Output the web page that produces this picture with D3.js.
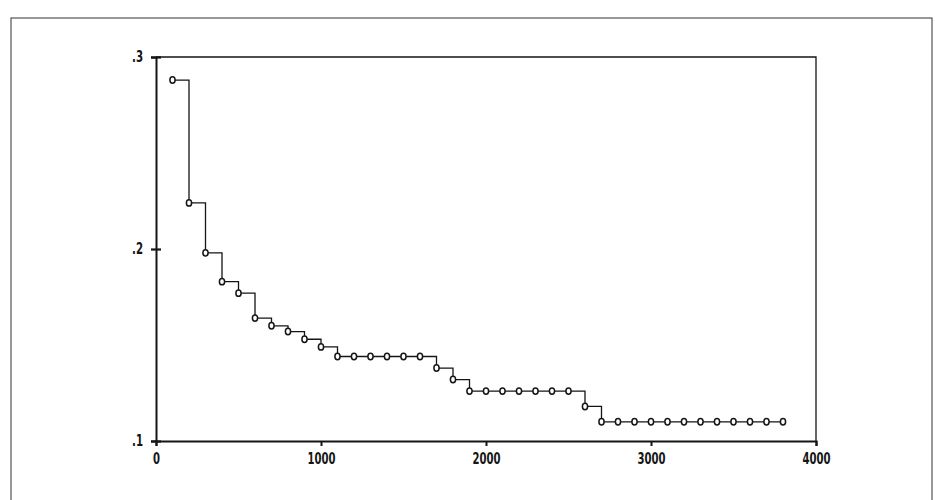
<!DOCTYPE html>
<html>
<head>
<meta charset="utf-8">
<script src="https://cdn.jsdelivr.net/npm/d3@7"></script>
<style>
  html, body { margin: 0; padding: 0; background: #fff; }
  svg { display: block; }
</style>
</head>
<body>
<svg id="chart" width="935" height="500"></svg>
<script>
// Data
const xValues = [100, 200, 300, 400, 500, 600, 700, 800, 900, 1000,
                 1100, 1200, 1300, 1400, 1500, 1600, 1700, 1800, 1900, 2000,
                 2100, 2200, 2300, 2400, 2500, 2600, 2700, 2800, 2900, 3000,
                 3100, 3200, 3300, 3400, 3500, 3600, 3700, 3800];
const yValues = [0.288, 0.224, 0.198, 0.183, 0.177, 0.164, 0.160, 0.157, 0.153, 0.149,
                 0.144, 0.144, 0.144, 0.144, 0.144, 0.144, 0.138, 0.132, 0.126, 0.126,
                 0.126, 0.126, 0.126, 0.126, 0.126, 0.118, 0.110, 0.110, 0.110, 0.110,
                 0.110, 0.110, 0.110, 0.110, 0.110, 0.110, 0.110, 0.110];
const xTicks = [0, 1000, 2000, 3000, 4000];
const xTickLabels = ["0", "1000", "2000", "3000", "4000"];
const yTicks = [0.1, 0.2, 0.3];
const yTickLabels = [".1", ".2", ".3"];

const data = xValues.map((x, i) => ({ x, y: yValues[i] }));

const svg = d3.select("#chart");
const ink = "#151515";

// outer frame of the scanned figure
svg.append("rect")
  .attr("x", 11).attr("y", 18)
  .attr("width", 921).attr("height", 520)
  .attr("fill", "none").attr("stroke", "#333").attr("stroke-width", 1);

const x = d3.scaleLinear().domain([0, 4000]).range([156, 816]);
const y = d3.scaleLinear().domain([0.1, 0.3]).range([441, 57]);

// plot box (top and right)
svg.append("path")
  .attr("d", `M${x(0)},${y(0.3)}H${x(4000)}V${y(0.1)}`)
  .attr("fill", "none").attr("stroke", ink).attr("stroke-width", 1.3);

// x axis
const xAxis = d3.axisBottom(x).tickValues(xTicks)
  .tickFormat((d, i) => xTickLabels[i]).tickSize(5).tickPadding(7);
const gx = svg.append("g").attr("transform", `translate(0,${y(0.1)})`).call(xAxis);
gx.select(".domain").attr("stroke", ink).attr("stroke-width", 2);
gx.selectAll(".tick line").attr("stroke", ink).attr("stroke-width", 2);
gx.selectAll(".tick text")
  .attr("fill", ink)
  .style("font-family", "'DejaVu Sans Condensed', 'DejaVu Sans', sans-serif")
  .style("font-size", "15px").style("font-weight", "bold")
  .attr("textLength", (d, i) => xTickLabels[i].length * 7)
  .attr("lengthAdjust", "spacingAndGlyphs");

// y axis
const yAxis = d3.axisLeft(y).tickValues(yTicks)
  .tickFormat((d, i) => yTickLabels[i]).tickSize(5).tickPadding(8);
const gy = svg.append("g").attr("transform", `translate(${x(0)},0)`).call(yAxis);
gy.select(".domain").attr("stroke", ink).attr("stroke-width", 2);
gy.selectAll(".tick line").attr("stroke", ink).attr("stroke-width", 2.2).attr("x2", 5).attr("x1", -5);
gy.selectAll(".tick text")
  .attr("fill", ink)
  .style("font-family", "'DejaVu Sans Condensed', 'DejaVu Sans', sans-serif")
  .style("font-size", "15px").style("font-weight", "bold")
  .attr("textLength", 11)
  .attr("lengthAdjust", "spacingAndGlyphs");

// step line
const line = d3.line().x(d => x(d.x)).y(d => y(d.y)).curve(d3.curveStepAfter);
svg.append("path").datum(data)
  .attr("d", line)
  .attr("fill", "none").attr("stroke", ink).attr("stroke-width", 1.3);

// circle markers
svg.append("g").selectAll("ellipse").data(data).join("ellipse")
  .attr("cx", d => x(d.x)).attr("cy", d => y(d.y))
  .attr("rx", 2.6).attr("ry", 3.2)
  .attr("fill", "#fff").attr("stroke", ink).attr("stroke-width", 1.5);
</script>
</body>
</html>
